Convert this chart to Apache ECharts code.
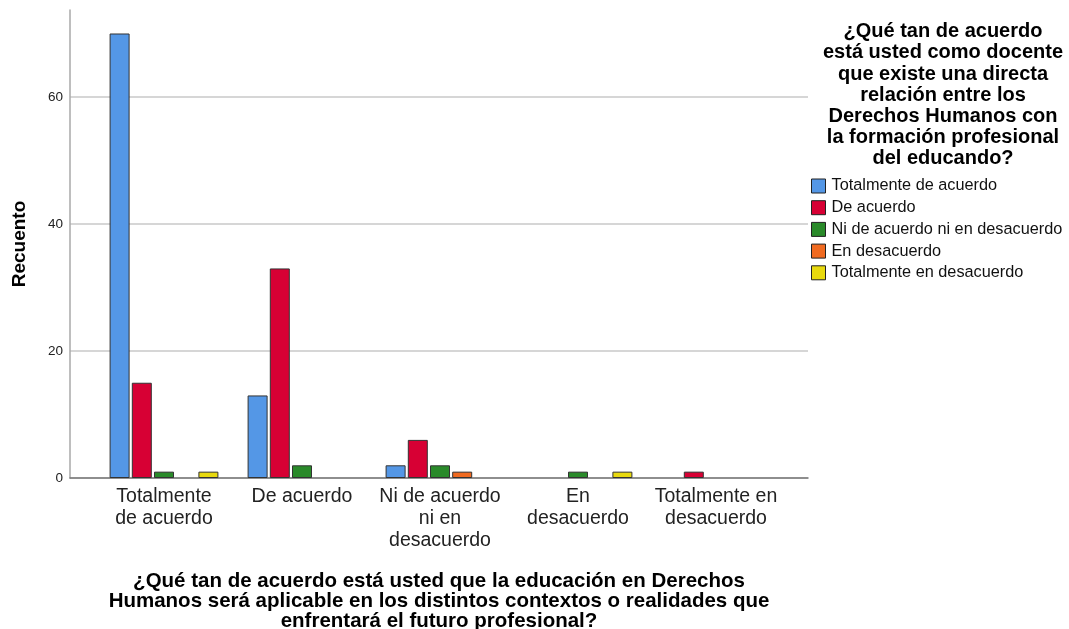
<!DOCTYPE html>
<html>
<head>
<meta charset="utf-8">
<script src="https://cdn.jsdelivr.net/npm/echarts@6/dist/echarts.min.js"></script>
<style>html,body{margin:0;padding:0;background:#fff}#c{width:1069px;height:629px}</style>
</head>
<body>
<div id="c"></div>
<script>
const categories = ['Totalmente\nde acuerdo', 'De acuerdo', 'Ni de acuerdo\nni en\ndesacuerdo', 'En\ndesacuerdo', 'Totalmente en\ndesacuerdo'];
const seriesNames = ['Totalmente de acuerdo', 'De acuerdo', 'Ni de acuerdo ni en desacuerdo', 'En desacuerdo', 'Totalmente en desacuerdo'];
const totalmenteDeAcuerdo = [70, 13, 2, 0, 0];
const deAcuerdo = [15, 33, 6, 0, 1];
const niDeAcuerdo = [1, 2, 2, 1, 0];
const enDesacuerdo = [0, 0, 1, 0, 0];
const totalmenteEnDesacuerdo = [1, 0, 0, 1, 0];
const yTicks = [0, 20, 40, 60];
const colors = ['#5497E6', '#D70034', '#2A8A2A', '#F06A20', '#E8D90E'];
const allValues = [totalmenteDeAcuerdo, deAcuerdo, niDeAcuerdo, enDesacuerdo, totalmenteEnDesacuerdo];

const FONT = 'Liberation Sans, Arial, sans-serif';
const YMAX = 73.7;
const chart = echarts.init(document.getElementById('c'), null, {renderer: 'canvas'});

const series = seriesNames.map((n, i) => ({
  name: n, type: 'bar', xAxisIndex: 2, yAxisIndex: 2,
  barWidth: 20, barGap: '11%',
  itemStyle: {color: colors[i], borderColor: '#333', borderWidth: 1},
  data: allValues[i].map(v => v === 0 ? null : v)
}));

chart.setOption({
  animation: false,
  textStyle: {fontFamily: FONT},
  legend: {
    orient: 'vertical', left: 811, top: 178, itemWidth: 14, itemHeight: 14, itemGap: 5.7,
    icon: 'rect', padding: 0,
    textStyle: {fontSize: 16.3, lineHeight: 14, color: '#111', fontFamily: FONT, padding: [0, 0, 0, 1]},
    itemStyle: {borderColor: '#222', borderWidth: 1},
    data: seriesNames
  },
  title: {
    text: '¿Qué tan de acuerdo\nestá usted como docente\nque existe una directa\nrelación entre los\nDerechos Humanos con\nla formación profesional\ndel educando?',
    left: 938, top: 16, textAlign: 'center',
    textStyle: {fontSize: 20, fontWeight: 'bold', color: '#000', lineHeight: 21.2, fontFamily: FONT}
  },
  grid: [
    {left: 70, right: 261, top: 10, bottom: 151, outerBoundsMode: 'none', containLabel: false},
    {left: 70, right: 261, top: 97, bottom: 151, outerBoundsMode: 'none', containLabel: false},
    {left: 95, right: 284, top: 10, bottom: 151, outerBoundsMode: 'none', containLabel: false}
  ],
  xAxis: [
    {gridIndex: 0, type: 'value', show: false},
    {gridIndex: 1, type: 'value', axisLine: {show: true, lineStyle: {color: '#777', width: 1.5}}, axisTick: {show: false}, axisLabel: {show: false}, splitLine: {show: false},
     name: '¿Qué tan de acuerdo está usted que la educación en Derechos\nHumanos será aplicable en los distintos contextos o realidades que\nenfrentará el futuro profesional?',
     nameLocation: 'middle', nameGap: 93,
     nameTextStyle: {fontSize: 20.5, fontWeight: 'bold', color: '#000', lineHeight: 20.3, fontFamily: FONT}},
    {gridIndex: 2, type: 'category', data: categories, axisLine: {show: false}, axisTick: {show: false},
     axisLabel: {fontSize: 19.5, color: '#222', lineHeight: 22, margin: 8, interval: 0, fontFamily: FONT}}
  ],
  yAxis: [
    {gridIndex: 0, type: 'value', min: 0, max: YMAX, axisLine: {show: true, lineStyle: {color: '#a8a8a8', width: 1.5}}, axisTick: {show: false}, axisLabel: {show: false}, splitLine: {show: false},
     name: 'Recuento', nameLocation: 'middle', nameGap: 41, nameRotate: 90,
     nameTextStyle: {fontSize: 19, fontWeight: 'bold', color: '#000', fontFamily: FONT}},
    {gridIndex: 1, type: 'value', min: yTicks[0], max: yTicks[yTicks.length - 1], interval: 20, axisLine: {show: false}, axisTick: {show: false},
     axisLabel: {fontSize: 13.5, color: '#222', margin: 7, fontFamily: FONT},
     splitLine: {show: true, lineStyle: {color: '#c8c8c8', width: 1.5}}},
    {gridIndex: 2, type: 'value', min: 0, max: YMAX, show: false}
  ],
  series: series
});
</script>
</body>
</html>
